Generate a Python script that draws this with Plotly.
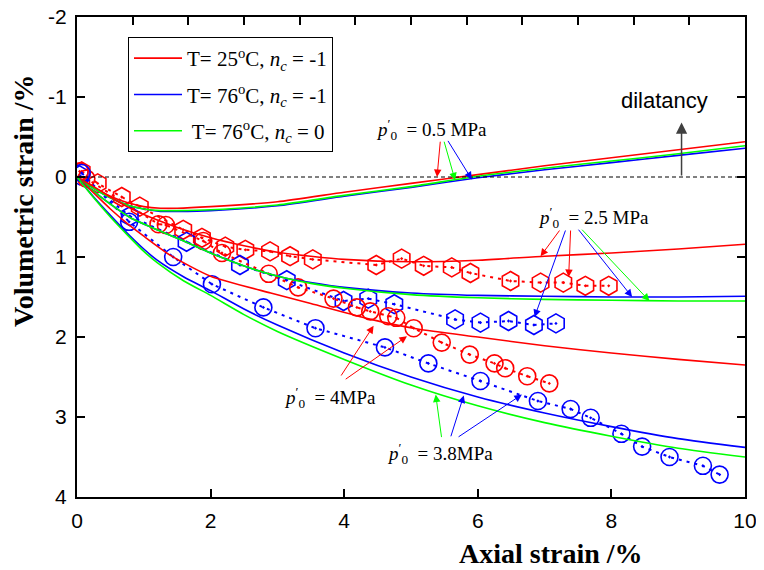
import plotly.graph_objects as go

RED, BLUE, GREEN = "#ff0000", "#0000ff", "#00ff00"
SERIF = "Liberation Serif"
SANS = "Liberation Sans"

# ---- model curves (solid lines) ----
m05_x = [0, 0.25, 0.5, 0.75, 1, 1.25, 1.5, 2, 3, 4, 5, 6, 7, 8, 9, 10]
m05_red = [0, 0.13, 0.24, 0.32, 0.37, 0.39, 0.39, 0.37, 0.31, 0.19, 0.08, -0.03, -0.14, -0.24, -0.34, -0.44]
m05_blue = [0, 0.14, 0.26, 0.35, 0.40, 0.43, 0.43, 0.42, 0.36, 0.24, 0.13, 0.01, -0.09, -0.18, -0.27, -0.36]
m05_green = [0, 0.14, 0.26, 0.35, 0.40, 0.42, 0.42, 0.41, 0.35, 0.23, 0.12, -0.01, -0.11, -0.20, -0.29, -0.39]

m25r_x = [0, 0.25, 0.5, 0.75, 1, 1.5, 2, 2.5, 3, 3.5, 4, 5, 6, 7, 8, 9, 10]
m25_red = [0, 0.12, 0.25, 0.37, 0.47, 0.63, 0.76, 0.86, 0.94, 0.99, 1.03, 1.06, 1.04, 0.99, 0.95, 0.90, 0.84]
m25bg_x = [0, 0.25, 0.5, 0.8, 1.2, 1.6, 2.0, 2.6, 3.1, 3.5, 4, 5, 6, 7, 8, 9, 10]
m25_blue = [0, 0.18, 0.34, 0.51, 0.66, 0.80, 0.95, 1.14, 1.26, 1.32, 1.38, 1.45, 1.48, 1.49, 1.50, 1.50, 1.49]
m25_green = [0, 0.18, 0.34, 0.51, 0.66, 0.80, 0.95, 1.14, 1.26, 1.33, 1.39, 1.47, 1.51, 1.53, 1.54, 1.55, 1.55]

m4_x = [0, 0.25, 0.5, 0.75, 1, 1.4, 2, 2.9, 3.5, 4.4, 5.1, 6, 7, 8, 9, 10]
m4_red = [0, 0.2, 0.4, 0.58, 0.74, 0.98, 1.24, 1.45, 1.58, 1.78, 1.9, 2.0, 2.11, 2.2, 2.28, 2.35]

m38_x = [0, 0.25, 0.5, 0.75, 1, 1.2, 1.6, 2, 2.5, 3, 4, 5, 6, 7, 8, 9, 10]
m38_blue = [0, 0.25, 0.48, 0.7, 0.9, 1.04, 1.25, 1.42, 1.65, 1.85, 2.2, 2.5, 2.75, 2.95, 3.12, 3.27, 3.38]
m38_green = [0, 0.26, 0.5, 0.72, 0.93, 1.07, 1.3, 1.48, 1.72, 1.93, 2.28, 2.6, 2.86, 3.07, 3.24, 3.39, 3.5]

# ---- experimental data (markers + dotted lines) ----
e25r_x = [0.07, 0.31, 0.67, 0.94, 1.59, 1.87, 2.22, 2.52, 2.89, 3.19, 3.53, 4.48, 4.86, 5.19, 5.61, 5.89, 6.49, 6.94, 7.28, 7.61, 7.96]
e25r_y = [-0.07, 0.08, 0.25, 0.37, 0.66, 0.76, 0.87, 0.91, 0.93, 0.99, 1.03, 1.10, 1.02, 1.11, 1.13, 1.20, 1.30, 1.32, 1.32, 1.36, 1.36]
e25b_x = [0.04, 0.79, 1.64, 2.44, 3.14, 3.99, 4.36, 4.75, 5.66, 6.04, 6.46, 6.84, 7.17]
e25b_y = [-0.02, 0.49, 0.81, 1.10, 1.29, 1.55, 1.52, 1.59, 1.78, 1.82, 1.80, 1.85, 1.83]
e4r_x = [0.04, 0.14, 1.22, 1.33, 1.89, 2.17, 2.87, 3.31, 3.84, 4.19, 4.39, 4.66, 4.78, 5.04, 5.46, 5.88, 6.25, 6.41, 6.74, 7.07]
e4r_y = [-0.07, 0.02, 0.59, 0.60, 0.80, 0.95, 1.21, 1.38, 1.52, 1.63, 1.68, 1.74, 1.76, 1.89, 2.07, 2.22, 2.33, 2.39, 2.49, 2.58]
e38b_x = [0.07, 0.78, 1.44, 2.02, 2.79, 3.57, 4.61, 5.26, 6.04, 6.90, 7.39, 7.69, 8.15, 8.46, 8.87, 9.37, 9.62]
e38b_y = [-0.05, 0.56, 1.00, 1.34, 1.63, 1.89, 2.13, 2.33, 2.55, 2.80, 2.90, 3.01, 3.21, 3.37, 3.50, 3.61, 3.72]

legend_names = ["T= 25<sup>o</sup>C, <i>n<sub>c</sub></i> = -1",
                "T= 76<sup>o</sup>C, <i>n<sub>c</sub></i> = -1",
                " T= 76<sup>o</sup>C, <i>n<sub>c</sub></i> = 0"]

x_ticks = [0, 2, 4, 6, 8, 10]
x_top_ticks = list(range(0, 13))
y_ticks = [-2, -1, 0, 1, 2, 3, 4]
y_ticktext = ["-2", "-1", "0", "1", "2", "3", "4"]

fig = go.Figure()

def model(x, y, color, group, name, show):
    fig.add_trace(go.Scatter(x=x, y=y, mode="lines", line=dict(color=color, width=1.6, shape="spline", smoothing=0.6),
                             name=name, legendgroup=group, showlegend=show, hoverinfo="skip"))

def exp(x, y, color, symbol, size):
    fig.add_trace(go.Scatter(x=x, y=y, mode="lines+markers",
                             line=dict(color=color, width=2, dash="3px,5px"),
                             marker=dict(symbol=symbol, size=size, color=color,
                                         line=dict(color=color, width=1.6)),
                             showlegend=False, hoverinfo="skip"))

exp(e25r_x, e25r_y, RED, "hexagon-open-dot", 19)
exp(e25b_x, e25b_y, BLUE, "hexagon-open-dot", 19)
exp(e4r_x, e4r_y, RED, "circle-open-dot", 17)
exp(e38b_x, e38b_y, BLUE, "circle-open-dot", 17)

model(m05_x, m05_red, RED, "r", legend_names[0], True)
model(m05_x, m05_blue, BLUE, "b", legend_names[1], True)
model(m05_x, m05_green, GREEN, "g", legend_names[2], True)
model(m25r_x, m25_red, RED, "r", legend_names[0], False)
model(m25bg_x, m25_blue, BLUE, "b", legend_names[1], False)
model(m25bg_x, m25_green, GREEN, "g", legend_names[2], False)
model(m4_x, m4_red, RED, "r", legend_names[0], False)
model(m38_x, m38_blue, BLUE, "b", legend_names[1], False)
model(m38_x, m38_green, GREEN, "g", legend_names[2], False)

# invisible helper trace so the top axis is drawn
fig.add_trace(go.Scatter(x=x_top_ticks, y=[None] * len(x_top_ticks), xaxis="x2", yaxis="y",
                         mode="lines", showlegend=False, hoverinfo="skip"))

# zero reference line
fig.add_shape(type="line", xref="x domain", yref="y", x0=0, x1=1, y0=0, y1=0,
              line=dict(color="black", width=1, dash="4px,3px"))

ann = []
def arrow(x, y, ax, ay, color, width=1):
    ann.append(dict(x=x, y=y, ax=ax, ay=ay, xref="x", yref="y", axref="x", ayref="y",
                    text="", showarrow=True, arrowhead=2, arrowsize=1.5, arrowwidth=width,
                    arrowcolor=color))

def label(x, y, text, size=19):
    ann.append(dict(x=x, y=y, xref="x", yref="y", text=text, showarrow=False,
                    xanchor="center", yanchor="middle",
                    font=dict(family=SERIF, size=size, color="black")))

P0 = "<i>p</i><sup>′</sup><sub>0</sub>  "
label(5.30, -0.59, P0 + "= 0.5 MPa")
arrow(5.39, 0.0, 5.44, -0.46, RED)
arrow(5.66, 0.04, 5.49, -0.46, GREEN)
arrow(5.91, 0.03, 5.54, -0.47, BLUE)

label(7.73, 0.50, P0 + "= 2.5 MPa")
arrow(6.94, 0.99, 7.24, 0.65, RED)
arrow(7.36, 1.25, 7.39, 0.65, RED)
arrow(6.85, 1.75, 7.32, 0.65, BLUE)
arrow(8.31, 1.50, 7.49, 0.64, BLUE)
arrow(8.57, 1.55, 7.54, 0.64, GREEN)

label(3.78, 2.75, P0 + "= 4MPa")
arrow(4.44, 1.86, 3.94, 2.50, RED)
arrow(4.94, 1.99, 4.00, 2.54, RED)

label(5.44, 3.45, P0 + "= 3.8MPa")
arrow(5.37, 2.72, 5.46, 3.27, GREEN)
arrow(5.79, 2.73, 5.59, 3.26, BLUE)
arrow(6.66, 2.72, 5.69, 3.26, BLUE)

# dilatancy
arrow(9.05, -0.68, 9.05, 0.0, "#404040", 1.5)
ann.append(dict(x=8.80, y=-0.96, xref="x", yref="y", text="dilatancy", showarrow=False,
                xanchor="center", yanchor="middle",
                font=dict(family=SANS, size=22, color="black")))

# The page body has an 8 px margin, so the figure is drawn 8 px right/down.
OFF = 8
W, H = 764 - OFF, 570 - OFF
L, R, T, B = 77 - OFF, 19, 17 - OFF, 73
pw, ph = W - L - R, H - T - B

def px_to_paper(px, py):
    return (px - OFF - L) / pw, ((H - B) - (py - OFF)) / ph

tx, ty = px_to_paper(551, 553)
ann.append(dict(x=tx, y=ty, xref="paper", yref="paper", xanchor="center", yanchor="middle",
                text="<b>Axial strain /%</b>", showarrow=False,
                font=dict(family=SERIF, size=28, color="black")))
vx, vy = px_to_paper(23, 201)
ann.append(dict(x=vx, y=vy, xref="paper", yref="paper", xanchor="center", yanchor="middle",
                text="<b>Volumetric strain /%</b>", showarrow=False, textangle=-90,
                font=dict(family=SERIF, size=28, color="black")))

lx, ly = px_to_paper(128, 37)

axis_common = dict(showline=True, linecolor="black", linewidth=2, ticks="inside", ticklen=8,
                   tickwidth=2, tickcolor="black", showgrid=False, zeroline=False, automargin=False,
                   ticklabeloverflow="allow")

fig.update_layout(
    width=W, height=H, margin=dict(l=L, r=R, t=T, b=B, autoexpand=False),
    paper_bgcolor="white", plot_bgcolor="white",
    xaxis=dict(range=[0, 10], tickvals=x_ticks, ticktext=[str(v) for v in x_ticks],
               tickfont=dict(family=SANS, size=21, color="black"), ticklabelstandoff=4, **axis_common),
    xaxis2=dict(range=[0, 12], tickvals=x_top_ticks, overlaying="x", anchor="y", side="top",
                showticklabels=False, **axis_common),
    yaxis=dict(range=[4, -2], tickvals=y_ticks, ticktext=y_ticktext, mirror="ticks",
               tickfont=dict(family=SANS, size=21, color="black"), ticklabelstandoff=4, **axis_common),
    legend=dict(x=lx, y=ly, xanchor="left", yanchor="top",
                bordercolor="black", borderwidth=1, bgcolor="white", itemwidth=48,
                font=dict(family=SERIF, size=21, color="black"), tracegroupgap=6),
    annotations=ann,
    showlegend=True,
)

fig.write_html("out.html")
